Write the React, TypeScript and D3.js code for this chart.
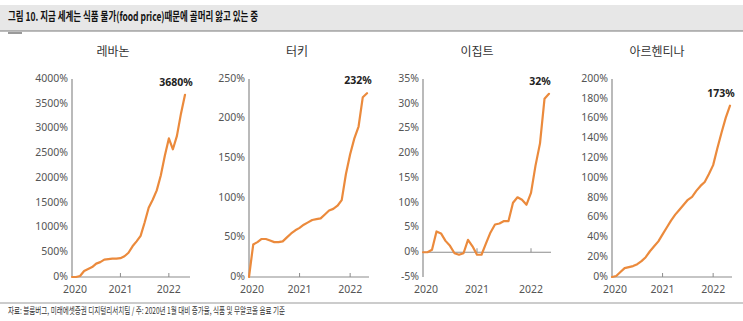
import React from "react";
import * as d3 from "d3";

const years = ["2020", "2021", "2022"];
const countries = ["레바논", "터키", "이집트", "아르헨티나"];

const lebanon = [0, 0, 20, 120, 160, 200, 270, 300, 350, 360, 370, 370, 380, 420, 490, 620, 720, 830, 1100, 1400, 1560, 1750, 2050, 2450, 2800, 2580, 2850, 3300, 3680];
const turkey = [0, 41, 44, 48, 48, 46, 44, 44, 45, 50, 55, 59, 62, 66, 69, 72, 73, 74, 79, 84, 86, 90, 97, 130, 155, 175, 190, 227, 232];
const egypt = [0, 0, 0.5, 4.2, 3.8, 2.3, 1.3, -0.2, -0.5, -0.2, 2.5, 1.2, -0.5, -0.5, 1.8, 4, 5.6, 5.8, 6.3, 6.3, 10, 11.1, 10.6, 9.6, 12, 17.5, 22, 31, 32];
const argentina = [0, 1, 5, 9, 10, 11, 13, 16, 20, 26, 31, 36, 43, 50, 57, 63, 68, 73, 78, 81, 87, 92, 96, 104, 113, 130, 146, 161, 173];

const lebanonTicks = [0, 500, 1000, 1500, 2000, 2500, 3000, 3500, 4000];
const turkeyTicks = [0, 50, 100, 150, 200, 250];
const egyptTicks = [-5, 0, 5, 10, 15, 20, 25, 30, 35];
const argentinaTicks = [0, 20, 40, 60, 80, 100, 120, 140, 160, 180, 200];

const endLabels = ["3680%", "232%", "32%", "173%"];

const title = "그림 10. 지금 세계는 식품 물가(food price)때문에 골머리 앓고 있는 중";
const source = "자료: 블룸버그, 미래에셋증권 디지털리서치팀 / 주: 2020년 1월 대비 증가율, 식품 및 무알코올 음료 기준";

const LINE = "#EB8A3C";
const AXIS = "#8c8c8c";
const TXT = "#555";
const FONT = "'Noto Sans', 'Noto Sans CJK KR', sans-serif";
const KFONT = "'Noto Sans CJK KR', sans-serif";

type Panel = {
  name: string;
  data: number[];
  ticks: number[];
  label: string;
  x0: number;
  xLast: number;
  xEnd: number;
  titleX: number;
};

const panels: Panel[] = [
  { name: countries[0], data: lebanon, ticks: lebanonTicks, label: endLabels[0], x0: 72, xLast: 185, xEnd: 190, titleX: 113 },
  { name: countries[1], data: turkey, ticks: turkeyTicks, label: endLabels[1], x0: 249, xLast: 367, xEnd: 369, titleX: 297 },
  { name: countries[2], data: egypt, ticks: egyptTicks, label: endLabels[2], x0: 423, xLast: 549, xEnd: 551, titleX: 477 },
  { name: countries[3], data: argentina, ticks: argentinaTicks, label: endLabels[3], x0: 612, xLast: 730, xEnd: 732, titleX: 657 },
];

const TOP = 79;
const BOTTOM = 277;

function PanelChart({ p }: { p: Panel }) {
  const n = p.data.length - 1;
  const x = d3.scaleLinear().domain([0, n]).range([p.x0, p.xLast]);
  const y = d3
    .scaleLinear()
    .domain([p.ticks[0], p.ticks[p.ticks.length - 1]])
    .range([BOTTOM, TOP]);
  const line = d3
    .line<number>()
    .x((_, i) => x(i))
    .y((d) => y(d))
    .curve(d3.curveLinear);
  const zeroY = y(0);
  const last = p.data[n];
  return (
    <g>
      <text x={p.titleX} y={53} textAnchor="middle" dominantBaseline="middle" fontFamily={KFONT} fontSize={12} fill="#333">
        {p.name}
      </text>
      {p.ticks.map((t) => (
        <text key={t} x={p.x0 - 4} y={y(t)} textAnchor="end" dominantBaseline="middle" fontFamily={FONT} fontSize={10.5} fill={TXT}>
          {t + "%"}
        </text>
      ))}
      <line x1={p.x0} x2={p.x0} y1={TOP} y2={BOTTOM} stroke={AXIS} strokeWidth={1.2} />
      <line x1={p.x0} x2={p.xEnd} y1={zeroY} y2={zeroY} stroke={AXIS} strokeWidth={1.2} />
      {years.map((yr, i) => (
        <g key={yr}>
          {i > 0 && <line x1={x(i * 12)} x2={x(i * 12)} y1={zeroY} y2={zeroY - 4} stroke={AXIS} strokeWidth={1} />}
          <text x={x(i * 12) + (i === 0 ? 3 : 0)} y={290.5} textAnchor="middle" dominantBaseline="middle" fontFamily={FONT} fontSize={10.5} fill={TXT}>
            {yr}
          </text>
        </g>
      ))}
      <path d={line(p.data) || ""} fill="none" stroke={LINE} strokeWidth={2.2} strokeLinejoin="round" strokeLinecap="round" />
      <text x={x(n) - 9} y={y(last) - 12} textAnchor="middle" dominantBaseline="middle" fontFamily={FONT} fontSize={10.5} fontWeight="bold" fill="#222">
        {p.label}
      </text>
    </g>
  );
}

export default function App() {
  return (
    <svg width={743} height={321} style={{ position: "absolute", left: 0, top: 0, background: "#fff" }}>
      <rect x={0} y={5} width={743} height={26} fill="#e7e7e7" />
      <line x1={0} x2={743} y1={31} y2={31} stroke="#7a7a7a" strokeWidth={1.2} />
      <rect x={8} y={32} width={14} height={2} fill="#9a9a9a" />
      <text x={8} y={18} dominantBaseline="middle" fontFamily={KFONT} fontSize={12} fontWeight="bold" fill="#111" textLength={250} lengthAdjust="spacingAndGlyphs">
        {title}
      </text>
      {panels.map((p) => (
        <PanelChart key={p.name} p={p} />
      ))}
      <line x1={0} x2={743} y1={303} y2={303} stroke="#999" strokeWidth={1} />
      <text x={8} y={311} dominantBaseline="middle" fontFamily={KFONT} fontSize={9.5} fill="#333" textLength={277} lengthAdjust="spacingAndGlyphs">
        {source}
      </text>
    </svg>
  );
}
